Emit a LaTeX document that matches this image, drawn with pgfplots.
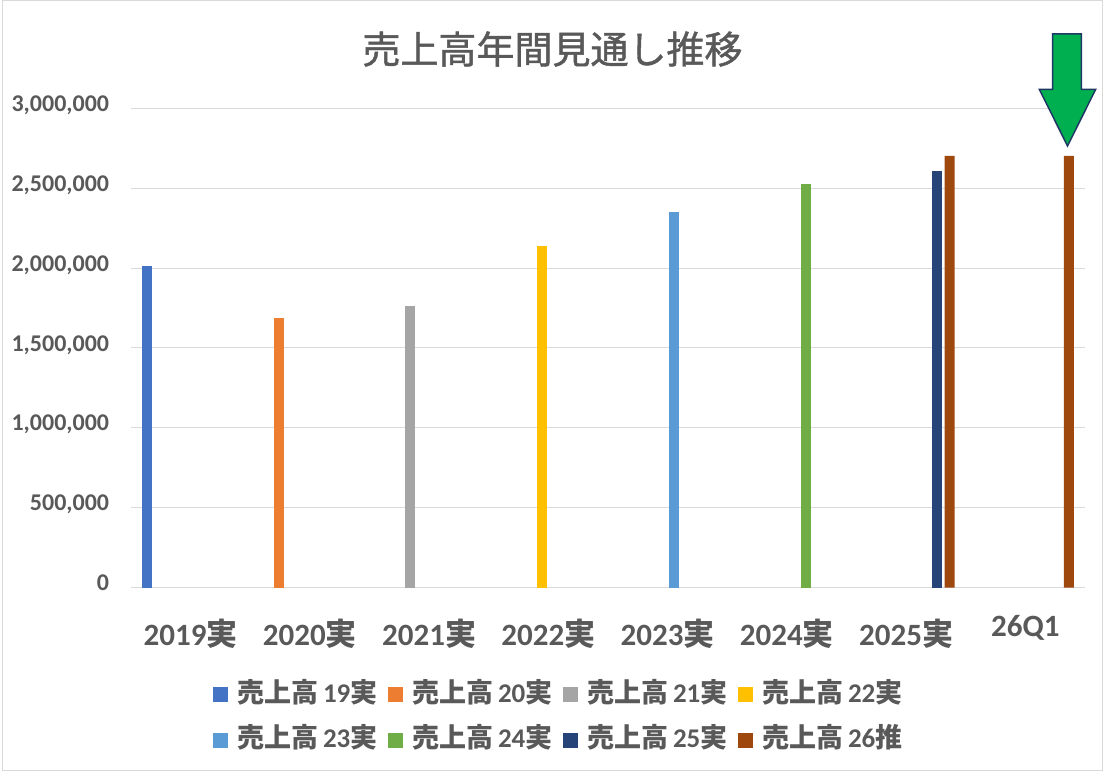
\documentclass[border=0pt]{standalone}
\usepackage{pgfplots}
\pgfplotsset{compat=1.18}
\usepackage{fontspec}
\setmainfont{Carlito}
\newfontfamily\cjk{Noto Sans CJK JP}
\newfontfamily\cjkt[FakeBold=1.2]{Noto Sans CJK JP}
\definecolor{cA}{HTML}{4472C4}
\definecolor{cB}{HTML}{ED7D31}
\definecolor{cC}{HTML}{A5A5A5}
\definecolor{cD}{HTML}{FFC000}
\definecolor{cE}{HTML}{5B9BD5}
\definecolor{cF}{HTML}{70AD47}
\definecolor{cG}{HTML}{264478}
\definecolor{cH}{HTML}{9E480E}
\definecolor{textgray}{HTML}{595959}
\definecolor{gridgray}{HTML}{D9D9D9}
\definecolor{arrowgreen}{HTML}{00B050}
\definecolor{arrownavy}{HTML}{1F3864}
\newcommand{\legtxt}[2]{\makebox[141bp][l]{{\cjk 売上高}\hspace{5bp}#1{\cjk #2}}}
\begin{document}
\begin{tikzpicture}
\useasboundingbox (0,0) rectangle (1107bp,774bp);
\draw[draw=gridgray, line width=1bp] (2bp,3bp) rectangle (1102bp,773bp);
\node[font=\cjkt\fontsize{38bp}{38bp}\selectfont, text=textgray, inner sep=0pt] at (552.5bp,725bp) {売上高年間見通し推移};
\begin{axis}[
  at={(131bp,186.5bp)}, anchor=south west,
  scale only axis, width=954bp, height=479.2bp,
  ybar, bar width=0.0839,
  xmin=-0.5, xmax=7.5, ymin=0, ymax=3000000,
  enlarge x limits=false, enlarge y limits=false,
  axis line style={draw=none},
  major tick length=0,
  ymajorgrids, grid style={draw=gridgray, line width=1bp},
  ytick={0,500000,1000000,1500000,2000000,2500000,3000000},
  scaled y ticks=false,
  yticklabel style={/pgf/number format/fixed, /pgf/number format/precision=0,
    /pgf/number format/1000 sep={,}, /pgf/number format/assume math mode=true,
    font=\bfseries\fontsize{24bp}{24bp}\selectfont, text=textgray,
    anchor=east, inner sep=0pt, xshift=-21.7bp, text height=0.63em, text depth=0pt},
  xtick={0,1,2,3,4,5,6,7},
  xticklabels={2019{\cjk 実},2020{\cjk 実},2021{\cjk 実},2022{\cjk 実},2023{\cjk 実},2024{\cjk 実},2025{\cjk 実},\raisebox{8.3bp}{26Q1}},
  xticklabel style={font=\bfseries\fontsize{31bp}{31bp}\selectfont, text=textgray,
    anchor=base, inner sep=0pt, yshift=-57.5bp},
  legend image code/.code={\fill[#1,draw=none] (0bp,0bp) rectangle (15bp,15bp);},
  legend columns=4,
  legend style={at={(axis description cs:0.0860,-0.1978)}, anchor=north west,
    draw=none, fill=none, inner sep=0pt, outer sep=0pt,
    row sep=19.4bp,
    font=\bfseries\fontsize{27bp}{27bp}\selectfont, text=textgray,
    nodes={inner sep=0pt, text height=20bp, text depth=6bp},
    cells={anchor=base west},
    /tikz/every odd column/.append style={column sep=9bp},
    /tikz/every even column/.append style={column sep=10bp}},
]
\addplot[fill=cA, draw=none, bar shift=-0.3654] coordinates {(0,2014000)};
\addlegendentry{\legtxt{19}{実}}
\addplot[fill=cB, draw=none, bar shift=-0.2610] coordinates {(1,1687500)};
\addlegendentry{\legtxt{20}{実}}
\addplot[fill=cC, draw=none, bar shift=-0.1566] coordinates {(2,1764000)};
\addlegendentry{\legtxt{21}{実}}
\addplot[fill=cD, draw=none, bar shift=-0.0522] coordinates {(3,2139000)};
\addlegendentry{\legtxt{22}{実}}
\addplot[fill=cE, draw=none, bar shift=0.0522] coordinates {(4,2352000)};
\addlegendentry{\legtxt{23}{実}}
\addplot[fill=cF, draw=none, bar shift=0.1566] coordinates {(5,2527000)};
\addlegendentry{\legtxt{24}{実}}
\addplot[fill=cG, draw=none, bar shift=0.2610] coordinates {(6,2608000)};
\addlegendentry{\legtxt{25}{実}}
\addplot[fill=cH, draw=none, bar shift=0.3654] coordinates {(6,2702000) (7,2702000)};
\addlegendentry{\legtxt{26}{推}}
\end{axis}
\filldraw[fill=arrowgreen, draw=arrownavy, line width=1.5bp, line join=miter]
  (1052.7bp,740bp) -- (1081.3bp,740bp) -- (1081.3bp,684.7bp) -- (1095.7bp,684.7bp)
  -- (1067.5bp,628bp) -- (1039.3bp,684.7bp) -- (1052.7bp,684.7bp) -- cycle;
\end{tikzpicture}
\end{document}
